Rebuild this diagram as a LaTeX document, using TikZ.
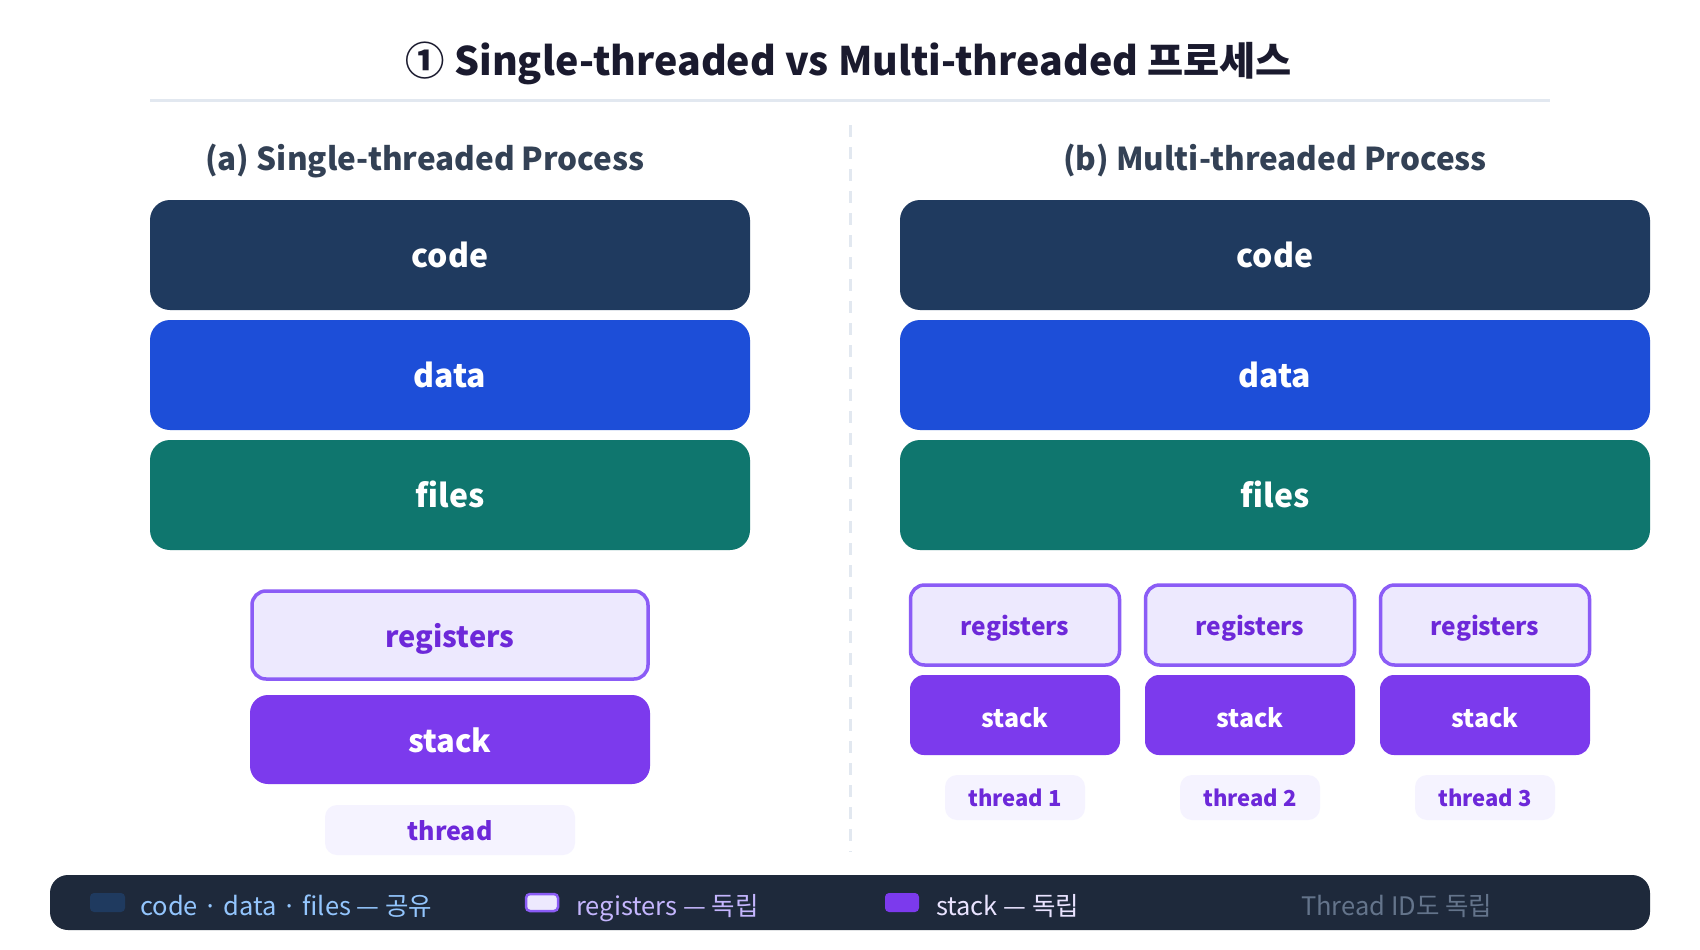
\documentclass[tikz,border=0pt]{standalone}
\usepackage{fontspec}
\setmainfont{Noto Sans CJK KR}
\definecolor{navy}{HTML}{1F3A5F}
\definecolor{blueD}{HTML}{1D4ED8}
\definecolor{tealD}{HTML}{0F766E}
\definecolor{vio}{HTML}{7C3AED}
\definecolor{vioB}{HTML}{8B5CF6}
\definecolor{vioL}{HTML}{EDE9FE}
\definecolor{vioXL}{HTML}{F5F3FF}
\definecolor{vioT}{HTML}{6D28D9}
\definecolor{slateD}{HTML}{1E293B}
\definecolor{slateT}{HTML}{334155}
\definecolor{titleC}{HTML}{1A1A2E}
\definecolor{ruleC}{HTML}{E2E8F0}
\definecolor{legA}{HTML}{93C5FD}
\definecolor{legB}{HTML}{C4B5FD}
\definecolor{legC}{HTML}{E9E3FF}
\definecolor{legD}{HTML}{64748B}
\tikzset{
  segbox/.style={rounded corners=20pt, inner sep=0pt, text=white, text height=24pt, text depth=0pt, font=\bfseries\fontsize{32}{38}\selectfont},
  regbox/.style={rounded corners=14pt, inner sep=0pt, draw=vioB, line width=3.5pt, fill=vioL, text=vioT, text depth=0pt},
  stkbox/.style={rounded corners=14pt, inner sep=0pt, fill=vio, text=white, text depth=0pt},
  thrbox/.style={rounded corners=12pt, inner sep=0pt, fill=vioXL, text=vioT, text depth=0pt},
  legtxt/.style={anchor=base west, inner sep=0pt, font=\fontsize{25.5}{30}\selectfont},
  subt/.style={inner sep=0pt, anchor=base, text=slateT, font=\bfseries\fontsize{31.5}{38}\selectfont}
}
\begin{document}
\begin{tikzpicture}[x=1pt,y=-1pt]
\useasboundingbox[fill=white] (0,0) rectangle (1700,950);
% title
\node[inner sep=0pt, text=titleC, font=\bfseries\fontsize{39.3}{47}\selectfont] (title) at (849,63) {① Single-threaded vs Multi-threaded 프로세스};
\coordinate (rl) at (150,100);
\coordinate (rr) at (1550,100);
\draw[ruleC, line width=3pt] (rl) -- (rr);
\coordinate (dt) at (850,125);
\coordinate (db) at (850,852);
\draw[ruleC, line width=3pt, dash pattern=on 12pt off 10pt] (dt) -- (db);
% subtitles
\node[subt] (suba) at (425,170) {(a) Single-threaded Process};
\node[subt] (subb) at (1275,170) {(b) Multi-threaded Process};
% left column
\node[segbox, fill=navy, minimum width=600pt, minimum height=110pt] (codeA) at (450,255) {code};
\node[segbox, fill=blueD, minimum width=600pt, minimum height=110pt] (dataA) at (450,375) {data};
\node[segbox, fill=tealD, minimum width=600pt, minimum height=110pt] (filesA) at (450,495) {files};
\node[regbox, minimum width=396pt, minimum height=88pt, text height=24pt, font=\bfseries\fontsize{29}{36}\selectfont] (regA) at (450,635) {registers};
\node[stkbox, rounded corners=18pt, minimum width=400pt, minimum height=89pt, text height=25pt, font=\bfseries\fontsize{31}{36}\selectfont] (stkA) at (450,739.5) {stack};
\node[thrbox, minimum width=250pt, minimum height=50pt, text height=21pt, font=\bfseries\fontsize{25}{30}\selectfont] (thrA) at (450,830) {thread};
% right column
\node[segbox, fill=navy, minimum width=750pt, minimum height=110pt] (codeB) at (1275,255) {code};
\node[segbox, fill=blueD, minimum width=750pt, minimum height=110pt] (dataB) at (1275,375) {data};
\node[segbox, fill=tealD, minimum width=750pt, minimum height=110pt] (filesB) at (1275,495) {files};
\foreach \i/\x in {1/1015,2/1250,3/1485}{
  \node[regbox, minimum width=209pt, minimum height=80pt, text height=20pt, font=\bfseries\fontsize{24.5}{30}\selectfont] (regB\i) at (\x,625) {registers};
  \node[stkbox, minimum width=210pt, minimum height=80pt, text height=25pt, font=\bfseries\fontsize{25}{30}\selectfont] (stkB\i) at (\x,715) {stack};
  \node[thrbox, minimum width=140pt, minimum height=45pt, text height=18.5pt, font=\bfseries\fontsize{22}{26}\selectfont] (thrB\i) at (\x,797.5) {thread \i};
}
% footer legend
\node[fill=slateD, rounded corners=18pt, minimum width=1600pt, minimum height=55pt, inner sep=0pt] (foot) at (850,902.5) {};
\node[fill=navy, rounded corners=4pt, minimum width=35pt, minimum height=19pt, inner sep=0pt] (sw1) at (107.5,902.5) {};
\node[legtxt, text=legA] (lt1) at (140,915) {code · data · files — 공유};
\node[fill=vioL, draw=vioB, line width=2.5pt, rounded corners=4pt, minimum width=32pt, minimum height=17pt, inner sep=0pt] (sw2) at (542,902.5) {};
\node[legtxt, text=legB] (lt2) at (576,915) {registers — 독립};
\node[fill=vio, rounded corners=4pt, minimum width=34pt, minimum height=19pt, inner sep=0pt] (sw3) at (902,902.5) {};
\node[legtxt, text=legC] (lt3) at (936,915) {stack — 독립};
\node[legtxt, text=legD] (lt4) at (1301,915) {Thread ID도 독립};
\end{tikzpicture}
\end{document}
